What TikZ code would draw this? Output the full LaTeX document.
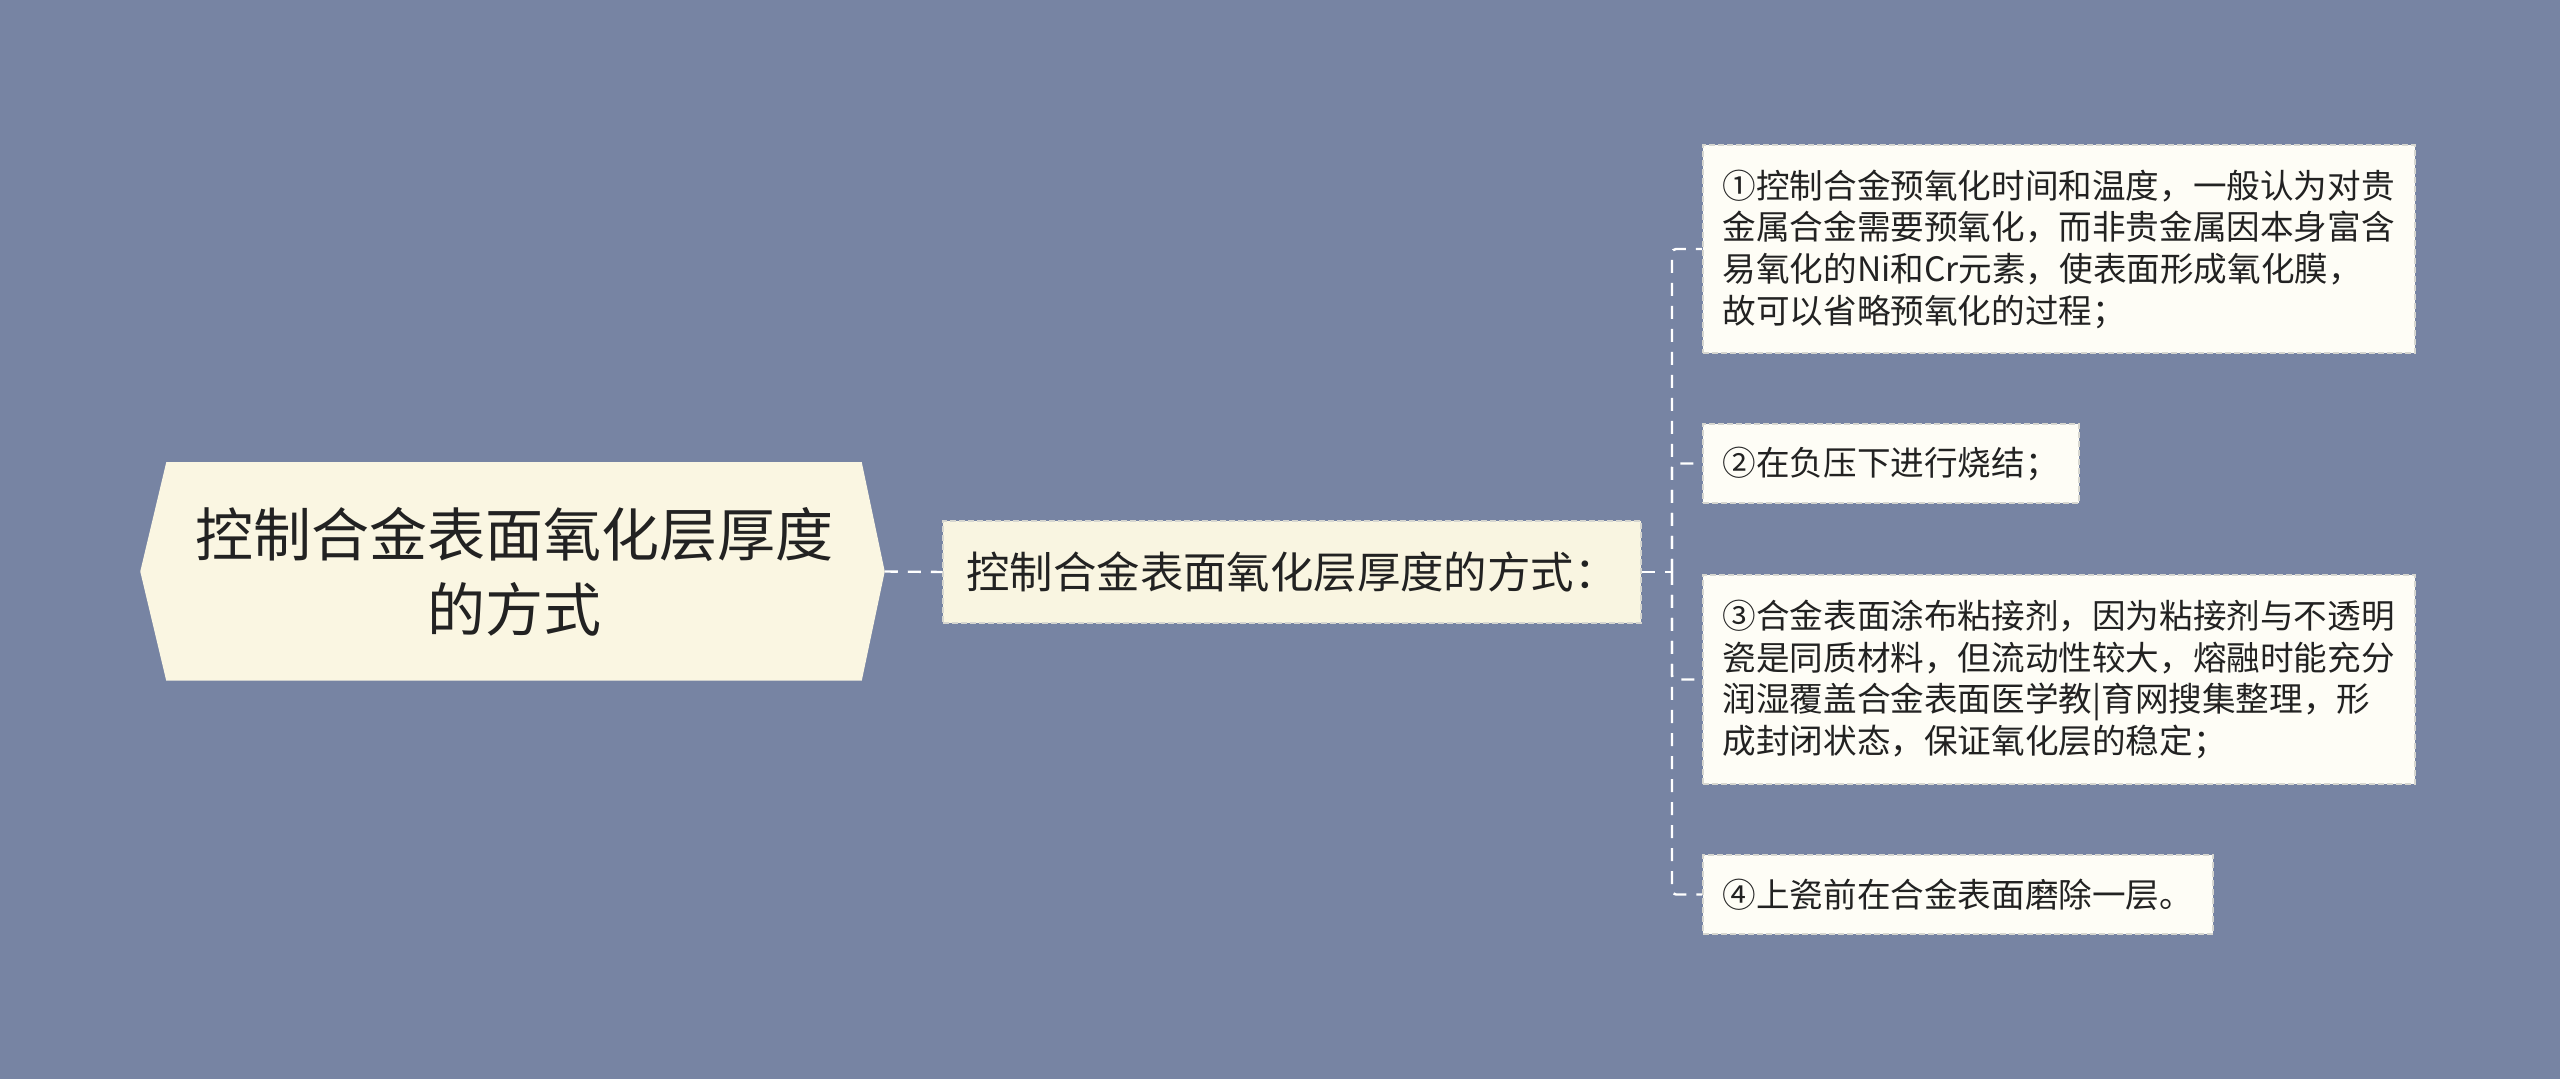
\documentclass[tikz,border=0pt]{standalone}
\usepackage{fontspec}
\setmainfont{Noto Sans CJK SC}
\usetikzlibrary{backgrounds}

\definecolor{bgblue}{RGB}{119,132,163}
\definecolor{rootcream}{RGB}{250,246,226}
\definecolor{midcream}{RGB}{249,245,225}
\definecolor{leafwhite}{RGB}{254,253,246}
\definecolor{boxedge}{RGB}{214,214,208}
\definecolor{inktext}{RGB}{34,34,34}

\tikzset{every picture/.style={line width=0.75pt}}
\tikzset{
  rootnode/.style={inner sep=0pt, minimum width=347pt, minimum height=108.5pt, align=center, text=inktext, font=\fontsize{29}{37.5}\selectfont},
  midbox/.style={draw=boxedge, fill=midcream, dash pattern=on 3pt off 1.5pt, minimum width=349pt, minimum height=51pt, inner sep=0pt, text=inktext, font=\fontsize{21.7}{26}\selectfont},
  leafbox/.style={draw=boxedge, fill=leafwhite, dash pattern=on 3pt off 1.5pt, anchor=west, inner xsep=10pt, inner ysep=0pt, align=left, text=inktext, font=\fontsize{16.8}{20.85}\selectfont},
  link/.style={draw=white, line width=1.2pt, dash pattern=on 6.5pt off 5pt, rounded corners=2pt},
}

\begin{document}
\begin{tikzpicture}[x=0.5pt,y=0.5pt,yscale=-1,xscale=1]
	\useasboundingbox (0,0) rectangle (2560,1079);

	% Text Node
	\draw (514,571.5) node [rootnode] (root) {控制合金表面氧化层厚度\\的方式};
	% Text Node
	\draw (1292,572) node [midbox] (mid) {控制合金表面氧化层厚度的方式：};
	% Text Node
	\draw (1702,249) node [leafbox, minimum height=104pt] (l1) {①控制合金预氧化时间和温度，一般认为对贵\\金属合金需要预氧化，而非贵金属因本身富含\\易氧化的Ni和Cr元素，使表面形成氧化膜，\\故可以省略预氧化的过程；};
	% Text Node
	\draw (1702,463.5) node [leafbox, minimum height=39.5pt] (l2) {②在负压下进行烧结；};
	% Text Node
	\draw (1702,679.5) node [leafbox, minimum height=104.5pt] (l3) {③合金表面涂布粘接剂，因为粘接剂与不透明\\瓷是同质材料，但流动性较大，熔融时能充分\\润湿覆盖合金表面医学教|育网搜集整理，形\\成封闭状态，保证氧化层的稳定；};
	% Text Node
	\draw (1702,894.5) node [leafbox, minimum height=39.5pt] (l4) {④上瓷前在合金表面磨除一层。};

	%Shape: Background and root hexagon
	\begin{scope}[on background layer]
	\fill [bgblue] (0,0) rectangle (2560,1079);
	\fill [rootcream] ([xshift=-13pt]root.west) -- (root.north west) -- (root.north east) -- ([xshift=11.5pt]root.east) -- (root.south east) -- (root.south west) -- cycle;
	\end{scope}

	\coordinate (rootTip) at ([xshift=11.5pt]root.east);
	\coordinate (fork) at (1672,572);

	% Connection
	\draw [link] (rootTip) -- (mid.west);
	\draw [link] (mid.east) -- (fork);
	\draw [link] (fork) |- (l1.west);
	\draw [link] (fork) |- (l2.west);
	\draw [link] (fork) |- (l3.west);
	\draw [link] (fork) |- (l4.west);

\end{tikzpicture}
\end{document}
